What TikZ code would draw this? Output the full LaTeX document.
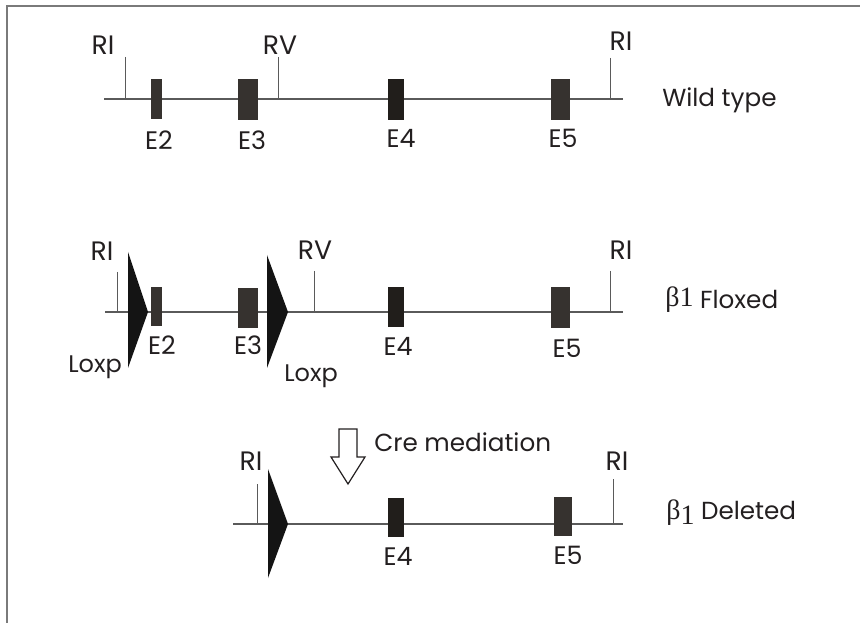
\documentclass[tikz,border=0pt]{standalone}
\usepackage{fontspec}
\setmainfont{Poppins}
\newfontfamily\greekfont{Liberation Serif}
\definecolor{ink}{HTML}{231F20}
\definecolor{exon}{HTML}{36322F}
\definecolor{exondark}{HTML}{211E1B}
\definecolor{dna}{HTML}{5A5A5A}
\definecolor{frame}{HTML}{7A7A7A}
\tikzset{
  backbone/.style={draw=dna, line width=1.1pt},
  site/.style={draw=dna, line width=0.7pt},
  exonbox/.style={fill=exon, draw=none},
  exonboxdark/.style={fill=exondark, draw=none},
  loxp/.style={fill=black!92, draw=none},
  lbl/.style={text=ink, font=\fontsize{20}{24}\selectfont, inner sep=0pt, anchor=base},
  loxlbl/.style={text=ink, font=\fontsize{18}{22}\selectfont, inner sep=0pt, anchor=base},
  elbl/.style={text=ink, font=\fontsize{19}{23}\selectfont, inner sep=0pt, anchor=base},
  rowlbl/.style={text=ink, font=\fontsize{18.5}{22}\selectfont, inner sep=0pt, anchor=base west},
}
\begin{document}
\begin{tikzpicture}[x=0.75pt, y=-0.75pt]
\useasboundingbox (0,0) rectangle (860,623);
% frame edges
\draw[frame, line width=1.2pt] (7,623) -- (7,6) -- (860,6);

% ---------------- wild type allele ----------------
\coordinate (w0) at (104,99);
\coordinate (w1) at (623,99);
\draw[backbone] (w0) -- (w1);
\draw[site] (125,57) -- (125,99);
\draw[site] (278,57) -- (278,99);
\draw[site] (610,58) -- (610,99);
\fill[exonbox] (151,79) rectangle (162,119);
\fill[exonbox] (238,79) rectangle (258,120);
\fill[exonboxdark] (388,79) rectangle (404,120);
\fill[exonbox] (551,79) rectangle (570,120);
\node[lbl] (wRIa) at (103,55) {RI};
\node[lbl] (wRV) at (280,55) {RV};
\node[lbl] (wRIb) at (621,51) {RI};
\node[elbl] (wE2) at (159,150) {E2};
\node[elbl] (wE3) at (252,150) {E3};
\node[elbl] (wE4) at (401,148) {E4};
\node[elbl] (wE5) at (563,148) {E5};
\node[rowlbl] (wlab) at (662,107) {Wild type};

% ---------------- floxed allele ----------------
\coordinate (f0) at (105,312);
\coordinate (f1) at (623,312);
\draw[backbone] (f0) -- (f1);
\draw[site] (117,272) -- (117,312);
\draw[site] (314,271) -- (314,312);
\draw[site] (610,271) -- (610,312);
\fill[loxp] (128,252) -- (148,312) -- (128,368) -- cycle;
\fill[loxp] (267,255) -- (288,312) -- (267,368) -- cycle;
\fill[exonbox] (151,287) rectangle (162,326);
\fill[exonbox] (238,288) rectangle (258,328);
\fill[exonboxdark] (388,287) rectangle (404,327);
\fill[exonbox] (551,287) rectangle (570,328);
\node[lbl] (fRIa) at (102,261) {RI};
\node[lbl] (fRV) at (315,260) {RV};
\node[lbl] (fRIb) at (621,260) {RI};
\node[elbl] (fE2) at (162,355) {E2};
\node[elbl] (fE3) at (248,355) {E3};
\node[elbl] (fE4) at (398,356) {E4};
\node[elbl] (fE5) at (567,358) {E5};
\node[loxlbl] (fLa) at (95,373) {Loxp};
\node[loxlbl] (fLb) at (311,382) {Loxp};
\node[rowlbl] (flab) at (665,309) {{\greekfont\fontsize{21}{24}\selectfont\raisebox{2pt}{β1}} Floxed};

% ---------------- Cre step ----------------
\draw[draw=ink, fill=white, line width=0.9pt]
  (339,429) -- (357,429) -- (357,457) -- (365,457) -- (348,484)
  -- (331,457) -- (339,457) -- cycle;
\node[rowlbl] (cre) at (374,451) {Cre mediation};

% ---------------- deleted allele ----------------
\coordinate (d0) at (233,524);
\coordinate (d1) at (623,524);
\draw[backbone] (d0) -- (d1);
\draw[site] (257,484) -- (257,524);
\draw[site] (613,479) -- (613,524);
\fill[loxp] (268,469) -- (288,524) -- (268,578) -- cycle;
\fill[exonboxdark] (388,498) rectangle (404,537);
\fill[exonbox] (554,497) rectangle (572,536);
\node[lbl] (dRIa) at (251,470) {RI};
\node[lbl] (dRIb) at (617,470) {RI};
\node[elbl] (dE4) at (398,565) {E4};
\node[elbl] (dE5) at (568,564) {E5};
\node[rowlbl] (dlab) at (666,519) {{\greekfont\fontsize{21}{24}\selectfont β\raisebox{-4pt}{1}} Deleted};
\end{tikzpicture}
\end{document}
